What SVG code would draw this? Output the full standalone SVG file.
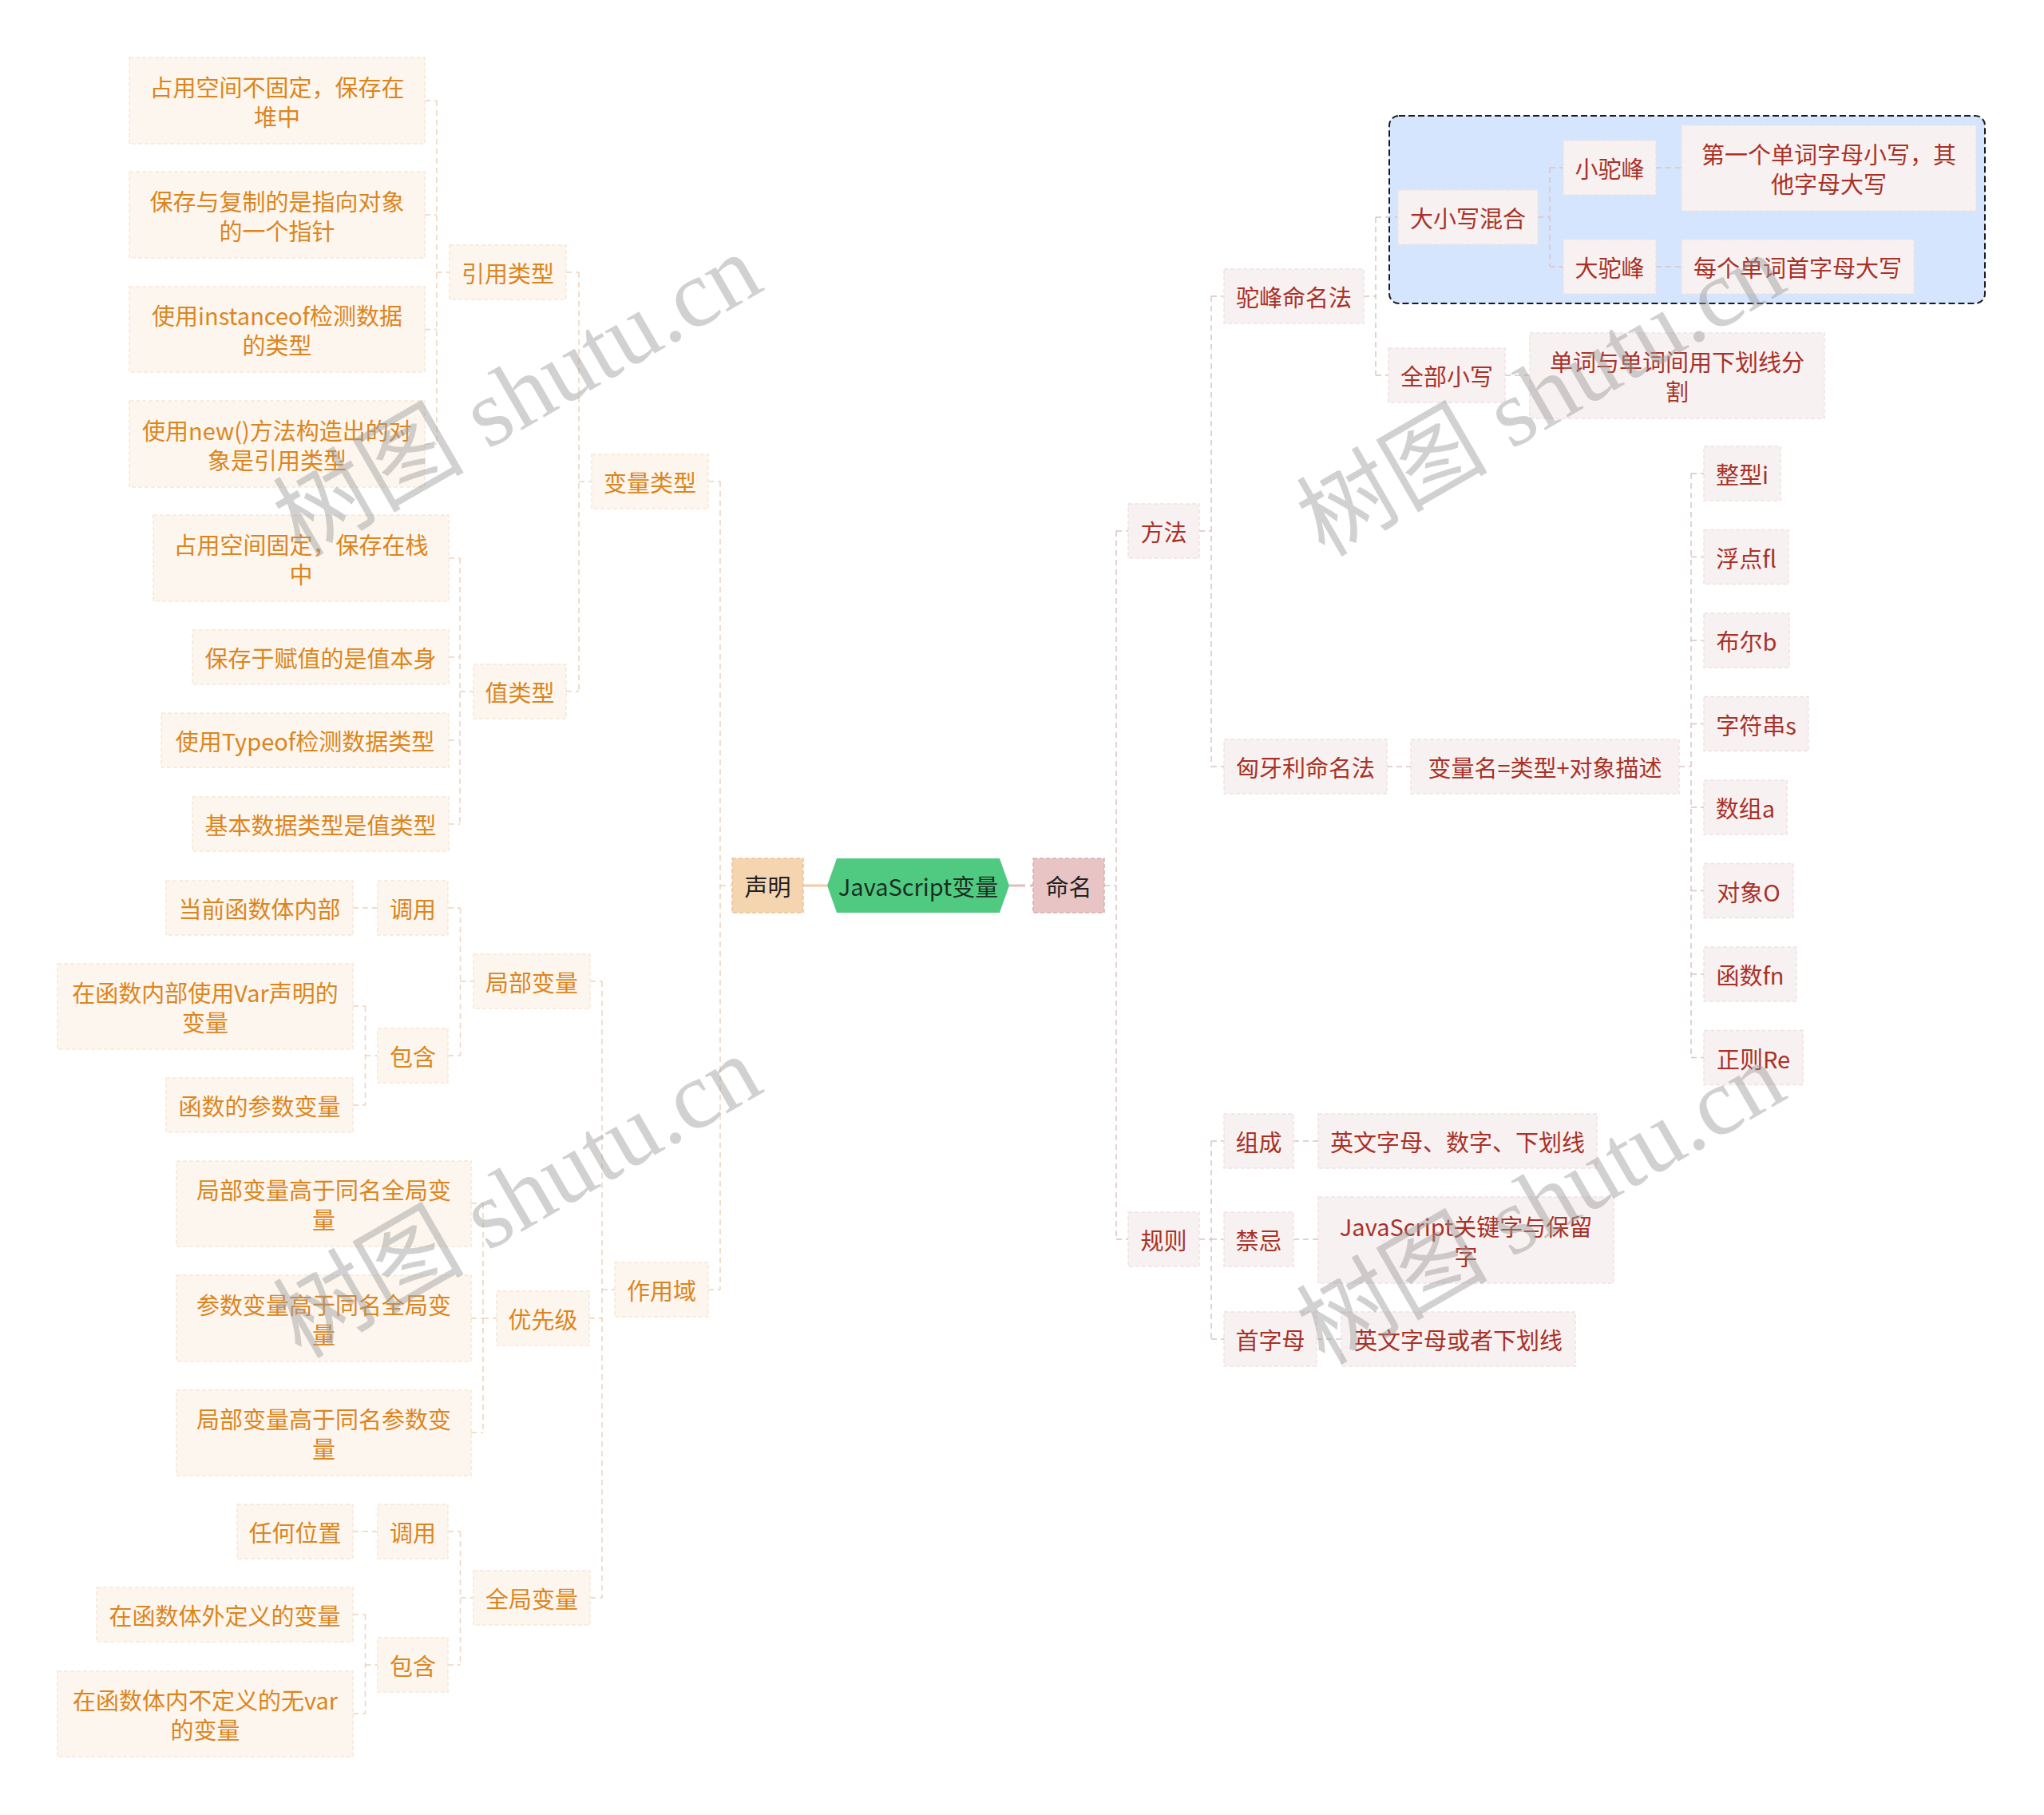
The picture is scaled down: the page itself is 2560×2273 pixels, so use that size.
<svg xmlns="http://www.w3.org/2000/svg" width="2560" height="2273" viewBox="0 0 2560 2273">
<style>
text{font-family:"Noto Sans CJK SC","Liberation Sans",sans-serif;font-size:29px;text-anchor:middle;dominant-baseline:central}
.nl rect{fill:#fdf6ee;stroke:#f7e7d6;stroke-width:1.5;stroke-dasharray:5 3}
.nl text{fill:#dc8520}
.nr rect{fill:#f8f1f1;stroke:#efe2e2;stroke-width:1.5;stroke-dasharray:5 3}
.nr text{fill:#a83228}
.cl{fill:none;stroke:#ecd4bb;stroke-width:1.5;stroke-dasharray:7 5}
.cr{fill:none;stroke:#dcc3c3;stroke-width:1.5;stroke-dasharray:7 5}
.wm{font-family:"Liberation Serif","Noto Sans CJK SC",serif;font-size:120px;fill:#9a9a9a;opacity:0.45}
</style>
<rect width="2560" height="2273" fill="#ffffff"/>
<rect id="camel-group" x="1740" y="145" width="746" height="235" rx="12" fill="#d5e5fd" stroke="#1a1a1a" stroke-width="2" stroke-dasharray="8 4"/>
<g id="connectors">
<path class="cl" d="M902,603V1615M902,1109H917M887,603H902M887,1615H902"/>
<path class="cl" d="M725,341V866M709,341H725M709,866H725M725,603H741"/>
<path class="cl" d="M547,126V556M532,126H547M532,269H547M532,412.5H547M532,556H547M547,341H563"/>
<path class="cl" d="M576,699V1032M562,699H576M562,823H576M562,927H576M562,1032H576M576,866H593"/>
<path class="cl" d="M754,1229V2001M739,1229H754M738,1651H754M739,2001H754M754,1615H770"/>
<path class="cl" d="M576.5,1137V1322M561,1137H576.5M561,1322H576.5M576.5,1229H593M442,1137H473"/>
<path class="cl" d="M457.5,1260V1384M442,1260H457.5M442,1384H457.5M457.5,1322H473"/>
<path class="cl" d="M605,1507V1794M590,1507H605M590,1651H605M590,1794H605M605,1651H622"/>
<path class="cl" d="M576.5,1918V2085M561,1918H576.5M561,2085H576.5M576.5,2001H593M442,1918H473"/>
<path class="cl" d="M457.5,2022V2146M442,2022H457.5M442,2146H457.5M457.5,2085H473"/>
<path d="M1006,1109H1036" fill="none" stroke="#f2cba4" stroke-width="3"/>
<path d="M1264,1109H1294" fill="none" stroke="#dfbdbd" stroke-width="3" stroke-dasharray="20 6"/>
<path class="cr" d="M1383,1109H1398M1398,665V1552M1398,665H1413M1398,1552H1413"/>
<path class="cr" d="M1502,665H1517M1517,371V960M1517,371H1533M1517,960H1533"/>
<path class="cr" d="M1708,371H1723M1723,272V470M1723,272H1751M1723,470H1739"/>
<path class="cr" d="M1926,272H1941M1941,210V334M1941,210H1958M1941,334H1958M2074,210H2106M2074,334H2106M1885,470H1916M1737,960H1767"/>
<path class="cr" d="M2103,960H2118M2118,593V1324.5M2118,593H2134M2118,697.5H2134M2118,802H2134M2118,906.5H2134M2118,1011H2134M2118,1115.5H2134M2118,1220H2134M2118,1324.5H2134"/>
<path class="cr" d="M1502,1552H1517M1517,1429V1677M1517,1429H1533M1517,1552H1533M1517,1677H1533M1620,1429H1651M1620,1552H1651M1649,1677H1680"/>
</g>
<g id="root"><polygon points="1036,1109 1048,1075 1252,1075 1264,1109 1252,1143 1048,1143" fill="#4fca80"/><text x="1150" y="1109" fill="#1c2e22">JavaScript变量</text></g>
<g id="n-shengming"><rect x="917" y="1075" width="89" height="68" fill="#f5d4b0" stroke="#e9c29c" stroke-width="1.5" stroke-dasharray="5 3"/><text x="961.5" y="1109" fill="#222">声明</text></g>
<g id="n-mingming"><rect x="1294" y="1075" width="89" height="68" fill="#e8c4c4" stroke="#d9afaf" stroke-width="1.5" stroke-dasharray="5 3"/><text x="1338.5" y="1109" fill="#222">命名</text></g>
<g id="n1" class="nl"><rect x="162" y="72" width="370" height="108"/><text><tspan x="347" y="107.5">占用空间不固定，保存在</tspan><tspan x="347" y="144.5">堆中</tspan></text></g>
<g id="n2" class="nl"><rect x="162" y="215" width="370" height="108"/><text><tspan x="347" y="250.5">保存与复制的是指向对象</tspan><tspan x="347" y="287.5">的一个指针</tspan></text></g>
<g id="n3" class="nl"><rect x="162" y="359" width="370" height="107"/><text><tspan x="347" y="394">使用instanceof检测数据</tspan><tspan x="347" y="431">的类型</tspan></text></g>
<g id="n4" class="nl"><rect x="162" y="502" width="370" height="108"/><text><tspan x="347" y="537.5">使用new()方法构造出的对</tspan><tspan x="347" y="574.5">象是引用类型</tspan></text></g>
<g id="n5" class="nl"><rect x="563" y="307" width="146" height="68"/><text x="636" y="341">引用类型</text></g>
<g id="n6" class="nl"><rect x="741" y="569" width="146" height="68"/><text x="814" y="603">变量类型</text></g>
<g id="n7" class="nl"><rect x="192" y="645" width="370" height="108"/><text><tspan x="377" y="680.5">占用空间固定，保存在栈</tspan><tspan x="377" y="717.5">中</tspan></text></g>
<g id="n8" class="nl"><rect x="241" y="789" width="321" height="68"/><text x="401.5" y="823">保存于赋值的是值本身</text></g>
<g id="n9" class="nl"><rect x="593" y="832" width="116" height="68"/><text x="651" y="866">值类型</text></g>
<g id="n10" class="nl"><rect x="202" y="893" width="360" height="68"/><text x="382" y="927">使用Typeof检测数据类型</text></g>
<g id="n11" class="nl"><rect x="241" y="998" width="321" height="68"/><text x="401.5" y="1032">基本数据类型是值类型</text></g>
<g id="n13" class="nl"><rect x="770" y="1581" width="117" height="68"/><text x="828.5" y="1615">作用域</text></g>
<g id="n14" class="nl"><rect x="593" y="1195" width="146" height="68"/><text x="666" y="1229">局部变量</text></g>
<g id="n15" class="nl"><rect x="473" y="1103" width="88" height="68"/><text x="517" y="1137">调用</text></g>
<g id="n16" class="nl"><rect x="208" y="1103" width="234" height="68"/><text x="325" y="1137">当前函数体内部</text></g>
<g id="n17" class="nl"><rect x="473" y="1288" width="88" height="68"/><text x="517" y="1322">包含</text></g>
<g id="n18" class="nl"><rect x="72" y="1207" width="370" height="107"/><text><tspan x="257" y="1242">在函数内部使用Var声明的</tspan><tspan x="257" y="1279">变量</tspan></text></g>
<g id="n19" class="nl"><rect x="208" y="1350" width="234" height="68"/><text x="325" y="1384">函数的参数变量</text></g>
<g id="n20" class="nl"><rect x="622" y="1617" width="116" height="68"/><text x="680" y="1651">优先级</text></g>
<g id="n21" class="nl"><rect x="221" y="1454" width="369" height="107"/><text><tspan x="405.5" y="1489">局部变量高于同名全局变</tspan><tspan x="405.5" y="1526">量</tspan></text></g>
<g id="n22" class="nl"><rect x="221" y="1597" width="369" height="108"/><text><tspan x="405.5" y="1632.5">参数变量高于同名全局变</tspan><tspan x="405.5" y="1669.5">量</tspan></text></g>
<g id="n23" class="nl"><rect x="221" y="1741" width="369" height="107"/><text><tspan x="405.5" y="1776">局部变量高于同名参数变</tspan><tspan x="405.5" y="1813">量</tspan></text></g>
<g id="n24" class="nl"><rect x="593" y="1967" width="146" height="68"/><text x="666" y="2001">全局变量</text></g>
<g id="n25" class="nl"><rect x="473" y="1884" width="88" height="68"/><text x="517" y="1918">调用</text></g>
<g id="n26" class="nl"><rect x="297" y="1884" width="145" height="68"/><text x="369.5" y="1918">任何位置</text></g>
<g id="n27" class="nl"><rect x="473" y="2051" width="88" height="68"/><text x="517" y="2085">包含</text></g>
<g id="n28" class="nl"><rect x="121" y="1988" width="321" height="68"/><text x="281.5" y="2022">在函数体外定义的变量</text></g>
<g id="n29" class="nl"><rect x="72" y="2093" width="370" height="107"/><text><tspan x="257" y="2128">在函数体内不定义的无var</tspan><tspan x="257" y="2165">的变量</tspan></text></g>
<g id="n30" class="nr"><rect x="1413" y="631" width="89" height="68"/><text x="1457.5" y="665">方法</text></g>
<g id="n31" class="nr"><rect x="1413" y="1518" width="89" height="68"/><text x="1457.5" y="1552">规则</text></g>
<g id="n32" class="nr"><rect x="1533" y="337" width="175" height="68"/><text x="1620.5" y="371">驼峰命名法</text></g>
<g id="n33" class="nr"><rect x="1533" y="926" width="204" height="68"/><text x="1635" y="960">匈牙利命名法</text></g>
<g id="n34" class="nr"><rect x="1751" y="238" width="175" height="68"/><text x="1838.5" y="272">大小写混合</text></g>
<g id="n35" class="nr"><rect x="1958" y="176" width="116" height="68"/><text x="2016" y="210">小驼峰</text></g>
<g id="n36" class="nr"><rect x="2106" y="157" width="369" height="107"/><text><tspan x="2290.5" y="192">第一个单词字母小写，其</tspan><tspan x="2290.5" y="229">他字母大写</tspan></text></g>
<g id="n37" class="nr"><rect x="1958" y="300" width="116" height="68"/><text x="2016" y="334">大驼峰</text></g>
<g id="n38" class="nr"><rect x="2106" y="300" width="291" height="68"/><text x="2251.5" y="334">每个单词首字母大写</text></g>
<g id="n39" class="nr"><rect x="1739" y="436" width="146" height="68"/><text x="1812" y="470">全部小写</text></g>
<g id="n40" class="nr"><rect x="1916" y="417" width="369" height="107"/><text><tspan x="2100.5" y="452">单词与单词间用下划线分</tspan><tspan x="2100.5" y="489">割</tspan></text></g>
<g id="n41" class="nr"><rect x="1767" y="926" width="336" height="68"/><text x="1935" y="960">变量名=类型+对象描述</text></g>
<g id="n42" class="nr"><rect x="2134" y="559" width="96" height="68"/><text x="2182" y="593">整型i</text></g>
<g id="n43" class="nr"><rect x="2134" y="663.5" width="106" height="68"/><text x="2187" y="697.5">浮点fl</text></g>
<g id="n44" class="nr"><rect x="2134" y="768" width="107" height="68"/><text x="2187.5" y="802">布尔b</text></g>
<g id="n45" class="nr"><rect x="2134" y="872.5" width="131" height="68"/><text x="2199.5" y="906.5">字符串s</text></g>
<g id="n46" class="nr"><rect x="2134" y="977" width="104" height="68"/><text x="2186" y="1011">数组a</text></g>
<g id="n47" class="nr"><rect x="2134" y="1081.5" width="112" height="68"/><text x="2190" y="1115.5">对象O</text></g>
<g id="n48" class="nr"><rect x="2134" y="1186" width="116" height="68"/><text x="2192" y="1220">函数fn</text></g>
<g id="n49" class="nr"><rect x="2134" y="1290.5" width="124" height="68"/><text x="2196" y="1324.5">正则Re</text></g>
<g id="n50" class="nr"><rect x="1533" y="1395" width="87" height="68"/><text x="1576.5" y="1429">组成</text></g>
<g id="n51" class="nr"><rect x="1651" y="1395" width="349" height="68"/><text x="1825.5" y="1429">英文字母、数字、下划线</text></g>
<g id="n52" class="nr"><rect x="1533" y="1518" width="87" height="68"/><text x="1576.5" y="1552">禁忌</text></g>
<g id="n53" class="nr"><rect x="1651" y="1499" width="370" height="108"/><text><tspan x="1836" y="1534.5">JavaScript关键字与保留</tspan><tspan x="1836" y="1571.5">字</tspan></text></g>
<g id="n54" class="nr"><rect x="1533" y="1643" width="116" height="68"/><text x="1591" y="1677">首字母</text></g>
<g id="n55" class="nr"><rect x="1680" y="1643" width="293" height="68"/><text x="1826.5" y="1677">英文字母或者下划线</text></g>
<g id="watermark">
<text class="wm" transform="translate(648,495) rotate(-30)">树图 shutu.cn</text>
<text class="wm" transform="translate(648,1499) rotate(-30)">树图 shutu.cn</text>
<text class="wm" transform="translate(1930,495) rotate(-30)">树图 shutu.cn</text>
<text class="wm" transform="translate(1930,1507) rotate(-30)">树图 shutu.cn</text>
</g>
</svg>
